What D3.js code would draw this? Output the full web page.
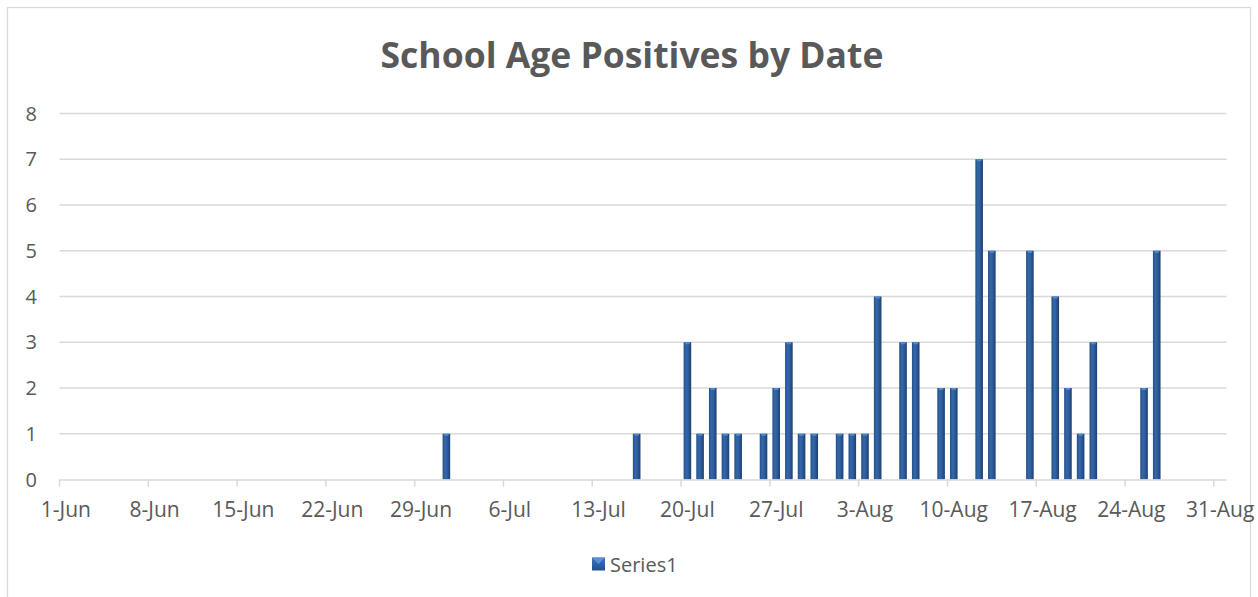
<!DOCTYPE html>
<html>
<head>
<meta charset="utf-8">
<script src="https://cdn.jsdelivr.net/npm/d3@7"></script>
<style>
  html, body { margin: 0; padding: 0; background: #fff; }
  svg { display: block; font-family: "Open Sans", sans-serif; }
</style>
</head>
<body>
<svg id="chart" width="1258" height="597"></svg>
<script>
// ---------- data ----------
const caseDates = [
  "2020-07-01", "2020-07-16", "2020-07-20", "2020-07-21", "2020-07-22",
  "2020-07-23", "2020-07-24", "2020-07-26", "2020-07-27", "2020-07-28",
  "2020-07-29", "2020-07-30", "2020-08-01", "2020-08-02", "2020-08-03",
  "2020-08-04", "2020-08-06", "2020-08-07", "2020-08-09", "2020-08-10",
  "2020-08-12", "2020-08-13", "2020-08-16", "2020-08-18", "2020-08-19",
  "2020-08-20", "2020-08-21", "2020-08-25", "2020-08-26"
];
const caseCounts = [
  1, 1, 3, 1, 2,
  1, 1, 1, 2, 3,
  1, 1, 1, 1, 1,
  4, 3, 3, 2, 2,
  7, 5, 5, 4, 2,
  1, 3, 2, 5
];
const xTickLabels = [
  "1-Jun", "8-Jun", "15-Jun", "22-Jun", "29-Jun", "6-Jul", "13-Jul",
  "20-Jul", "27-Jul", "3-Aug", "10-Aug", "17-Aug", "24-Aug", "31-Aug"
];
const yTicks = [0, 1, 2, 3, 4, 5, 6, 7, 8];
const seriesName = "Series1";
const chartTitle = "School Age Positives by Date";

// ---------- setup ----------
const parseDay = d3.timeParse("%Y-%m-%d");
const parseTick = d3.timeParse("%d-%b-%Y");
const data = caseDates.map((d, i) => ({ date: parseDay(d), value: caseCounts[i] }));
const tickDates = xTickLabels.map((t) => parseTick(t + "-2020"));

const svg = d3.select("#chart");
const textColor = "#595959";
const gridColor = "#d9d9d9";

const x = d3.scaleTime()
  .domain([parseDay("2020-06-01"), parseDay("2020-09-01")])
  .range([59.5, 1226.5]);
const y = d3.scaleLinear().domain([0, 8]).range([479.5, 113.5]);

const dayWidth = (d) => x(d3.timeDay.offset(d, 1)) - x(d);
const barWidth = 7.6;

// gradient for the bevelled bars
const defs = svg.append("defs");
const grad = defs.append("linearGradient").attr("id", "barGrad")
  .attr("x1", "0").attr("x2", "1").attr("y1", "0").attr("y2", "0");
grad.append("stop").attr("offset", "0%").attr("stop-color", "#24508a");
grad.append("stop").attr("offset", "35%").attr("stop-color", "#3467ab");
grad.append("stop").attr("offset", "60%").attr("stop-color", "#2e5d9c");
grad.append("stop").attr("offset", "100%").attr("stop-color", "#1d3f6f");

const legGrad = defs.append("linearGradient").attr("id", "legGrad")
  .attr("x1", "0").attr("x2", "0").attr("y1", "0").attr("y2", "1");
legGrad.append("stop").attr("offset", "0%").attr("stop-color", "#3d74bd");
legGrad.append("stop").attr("offset", "100%").attr("stop-color", "#234f8c");

// chart border
svg.append("rect")
  .attr("x", 7.5).attr("y", 7.5)
  .attr("width", 1243).attr("height", 620)
  .attr("fill", "#fff")
  .attr("stroke", gridColor).attr("stroke-width", 1.3);

// title
svg.append("text")
  .attr("x", 632).attr("y", 68)
  .attr("text-anchor", "middle")
  .attr("font-size", 35.5).attr("font-weight", 700)
  .attr("fill", textColor)
  .text(chartTitle);

// horizontal gridlines (not at zero)
svg.append("g")
  .selectAll("line")
  .data(yTicks.filter((t) => t > 0))
  .join("line")
  .attr("x1", x.range()[0]).attr("x2", x.range()[1])
  .attr("y1", (d) => y(d)).attr("y2", (d) => y(d))
  .attr("stroke", gridColor).attr("stroke-width", 1.5);

// y labels
svg.append("g")
  .selectAll("text")
  .data(yTicks)
  .join("text")
  .attr("x", 37).attr("y", (d) => y(d))
  .attr("dy", "0.36em")
  .attr("text-anchor", "end")
  .attr("font-size", 20)
  .attr("fill", textColor)
  .text((d) => d);

// bars
const bars = svg.append("g");
bars.selectAll("rect.bar")
  .data(data)
  .join("rect")
  .attr("class", "bar")
  .attr("x", (d) => x(d.date) + dayWidth(d.date) / 2 - barWidth / 2)
  .attr("width", barWidth)
  .attr("y", (d) => y(d.value))
  .attr("height", (d) => y(0) - y(d.value))
  .attr("fill", "url(#barGrad)");

// small highlight cap on each bar top
bars.selectAll("rect.cap")
  .data(data)
  .join("rect")
  .attr("class", "cap")
  .attr("x", (d) => x(d.date) + dayWidth(d.date) / 2 - barWidth / 2 + 1.5)
  .attr("width", barWidth - 3)
  .attr("y", (d) => y(d.value))
  .attr("height", 2)
  .attr("fill", "#4f88d0");

// x axis line + ticks
svg.append("line")
  .attr("x1", x.range()[0]).attr("x2", x.range()[1])
  .attr("y1", y(0) + 0.5).attr("y2", y(0) + 0.5)
  .attr("stroke", gridColor).attr("stroke-width", 1.5);

svg.append("g")
  .selectAll("line")
  .data(tickDates)
  .join("line")
  .attr("x1", (d) => x(d)).attr("x2", (d) => x(d))
  .attr("y1", y(0)).attr("y2", y(0) + 7)
  .attr("stroke", gridColor).attr("stroke-width", 1.5);

// x labels, centered on the day slot
svg.append("g")
  .selectAll("text")
  .data(tickDates)
  .join("text")
  .attr("x", (d, i) => x(d) + dayWidth(d) / 2)
  .attr("y", 516.5)
  .attr("text-anchor", "middle")
  .attr("font-size", 21)
  .attr("fill", textColor)
  .text((d, i) => xTickLabels[i]);

// legend
const legend = svg.append("g");
legend.append("rect")
  .attr("x", 592).attr("y", 557.5)
  .attr("width", 13).attr("height", 13)
  .attr("fill", "url(#legGrad)");
legend.append("path")
  .attr("d", "M592,557.5 L605,557.5 L598.5,564 Z")
  .attr("fill", "#5a91d6");
legend.append("text")
  .attr("x", 610).attr("y", 571.5)
  .attr("font-size", 20)
  .attr("fill", textColor)
  .text(seriesName);
</script>
</body>
</html>
